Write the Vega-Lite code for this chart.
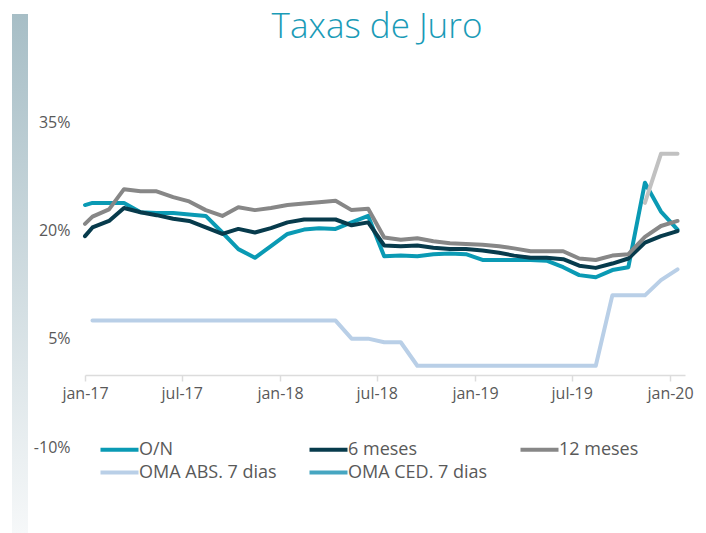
{
  "$schema": "https://vega.github.io/schema/vega-lite/v6.json",
  "background": "white",
  "padding": {"left": 12, "top": 10, "right": 0, "bottom": 0},
  "spacing": 5,
  "config": {"view": {"stroke": null}, "font": "Open Sans"},
  "hconcat": [
    {
      "width": 16,
      "height": 411,
      "data": {"values": [{"k": 0}]},
      "mark": {"type": "rect", "clip": false, "color": {"gradient": "linear", "x1": 0, "y1": 0, "x2": 0, "y2": 1, "stops": [{"offset": 0, "color": "#a7bec6"}, {"offset": 1, "color": "#f6f8f9"}]}},
      "encoding": {
        "x": {"datum": 0, "type": "quantitative", "scale": {"domain": [0, 1]}, "axis": null},
        "x2": {"datum": 1},
        "y": {"datum": 0, "type": "quantitative", "scale": {"domain": [0, 1], "nice": false, "zero": false}, "axis": null},
        "y2": {"datum": 1.263}
      }
    },
    {
      "width": 600,
      "height": 325,
      "title": {"text": "Taxas de Juro", "fontSize": 35, "font": "Open Sans", "fontWeight": 300, "color": "#1a9bb7", "anchor": "middle", "frame": "group", "offset": 69, "dx": -8},
      "data": {"values": [
        {"d": "2017-01-01", "s": "O/N", "v": 23.5},
        {"d": "2017-01-15", "s": "O/N", "v": 23.8},
        {"d": "2017-02-15", "s": "O/N", "v": 23.8},
        {"d": "2017-03-15", "s": "O/N", "v": 23.8},
        {"d": "2017-04-15", "s": "O/N", "v": 22.5},
        {"d": "2017-05-15", "s": "O/N", "v": 22.4},
        {"d": "2017-06-15", "s": "O/N", "v": 22.4},
        {"d": "2017-07-15", "s": "O/N", "v": 22.2},
        {"d": "2017-08-15", "s": "O/N", "v": 22.0},
        {"d": "2017-09-15", "s": "O/N", "v": 19.7},
        {"d": "2017-10-15", "s": "O/N", "v": 17.4},
        {"d": "2017-11-15", "s": "O/N", "v": 16.2},
        {"d": "2017-12-15", "s": "O/N", "v": 17.8},
        {"d": "2018-01-15", "s": "O/N", "v": 19.5},
        {"d": "2018-02-15", "s": "O/N", "v": 20.1},
        {"d": "2018-03-15", "s": "O/N", "v": 20.3},
        {"d": "2018-04-15", "s": "O/N", "v": 20.2},
        {"d": "2018-05-15", "s": "O/N", "v": 21.1},
        {"d": "2018-06-15", "s": "O/N", "v": 22.0},
        {"d": "2018-07-15", "s": "O/N", "v": 16.4},
        {"d": "2018-08-15", "s": "O/N", "v": 16.5},
        {"d": "2018-09-15", "s": "O/N", "v": 16.4},
        {"d": "2018-10-15", "s": "O/N", "v": 16.7},
        {"d": "2018-11-15", "s": "O/N", "v": 16.8},
        {"d": "2018-12-15", "s": "O/N", "v": 16.7},
        {"d": "2019-01-15", "s": "O/N", "v": 15.9},
        {"d": "2019-02-15", "s": "O/N", "v": 15.9},
        {"d": "2019-03-15", "s": "O/N", "v": 15.9},
        {"d": "2019-04-15", "s": "O/N", "v": 15.9},
        {"d": "2019-05-15", "s": "O/N", "v": 15.8},
        {"d": "2019-06-15", "s": "O/N", "v": 14.9},
        {"d": "2019-07-15", "s": "O/N", "v": 13.8},
        {"d": "2019-08-15", "s": "O/N", "v": 13.5},
        {"d": "2019-09-15", "s": "O/N", "v": 14.5},
        {"d": "2019-10-15", "s": "O/N", "v": 14.9},
        {"d": "2019-11-15", "s": "O/N", "v": 26.6},
        {"d": "2019-12-15", "s": "O/N", "v": 22.6},
        {"d": "2020-01-15", "s": "O/N", "v": 20.1},
        {"d": "2017-01-01", "s": "6 meses", "v": 19.2},
        {"d": "2017-01-15", "s": "6 meses", "v": 20.4},
        {"d": "2017-02-15", "s": "6 meses", "v": 21.3},
        {"d": "2017-03-15", "s": "6 meses", "v": 23.1},
        {"d": "2017-04-15", "s": "6 meses", "v": 22.5},
        {"d": "2017-05-15", "s": "6 meses", "v": 22.1},
        {"d": "2017-06-15", "s": "6 meses", "v": 21.6},
        {"d": "2017-07-15", "s": "6 meses", "v": 21.3},
        {"d": "2017-08-15", "s": "6 meses", "v": 20.4},
        {"d": "2017-09-15", "s": "6 meses", "v": 19.5},
        {"d": "2017-10-15", "s": "6 meses", "v": 20.2},
        {"d": "2017-11-15", "s": "6 meses", "v": 19.7},
        {"d": "2017-12-15", "s": "6 meses", "v": 20.3},
        {"d": "2018-01-15", "s": "6 meses", "v": 21.1},
        {"d": "2018-02-15", "s": "6 meses", "v": 21.5},
        {"d": "2018-03-15", "s": "6 meses", "v": 21.5},
        {"d": "2018-04-15", "s": "6 meses", "v": 21.5},
        {"d": "2018-05-15", "s": "6 meses", "v": 20.7},
        {"d": "2018-06-15", "s": "6 meses", "v": 21.1},
        {"d": "2018-07-15", "s": "6 meses", "v": 17.9},
        {"d": "2018-08-15", "s": "6 meses", "v": 17.8},
        {"d": "2018-09-15", "s": "6 meses", "v": 17.9},
        {"d": "2018-10-15", "s": "6 meses", "v": 17.6},
        {"d": "2018-11-15", "s": "6 meses", "v": 17.4},
        {"d": "2018-12-15", "s": "6 meses", "v": 17.4},
        {"d": "2019-01-15", "s": "6 meses", "v": 17.2},
        {"d": "2019-02-15", "s": "6 meses", "v": 16.9},
        {"d": "2019-03-15", "s": "6 meses", "v": 16.5},
        {"d": "2019-04-15", "s": "6 meses", "v": 16.2},
        {"d": "2019-05-15", "s": "6 meses", "v": 16.2},
        {"d": "2019-06-15", "s": "6 meses", "v": 16.0},
        {"d": "2019-07-15", "s": "6 meses", "v": 15.1},
        {"d": "2019-08-15", "s": "6 meses", "v": 14.8},
        {"d": "2019-09-15", "s": "6 meses", "v": 15.4},
        {"d": "2019-10-15", "s": "6 meses", "v": 16.1},
        {"d": "2019-11-15", "s": "6 meses", "v": 18.3},
        {"d": "2019-12-15", "s": "6 meses", "v": 19.2},
        {"d": "2020-01-15", "s": "6 meses", "v": 19.9},
        {"d": "2017-01-01", "s": "12 meses", "v": 20.9},
        {"d": "2017-01-15", "s": "12 meses", "v": 21.9},
        {"d": "2017-02-15", "s": "12 meses", "v": 22.9},
        {"d": "2017-03-15", "s": "12 meses", "v": 25.7},
        {"d": "2017-04-15", "s": "12 meses", "v": 25.4},
        {"d": "2017-05-15", "s": "12 meses", "v": 25.4},
        {"d": "2017-06-15", "s": "12 meses", "v": 24.6},
        {"d": "2017-07-15", "s": "12 meses", "v": 24.0},
        {"d": "2017-08-15", "s": "12 meses", "v": 22.8},
        {"d": "2017-09-15", "s": "12 meses", "v": 22.0},
        {"d": "2017-10-15", "s": "12 meses", "v": 23.2},
        {"d": "2017-11-15", "s": "12 meses", "v": 22.8},
        {"d": "2017-12-15", "s": "12 meses", "v": 23.1},
        {"d": "2018-01-15", "s": "12 meses", "v": 23.5},
        {"d": "2018-02-15", "s": "12 meses", "v": 23.7},
        {"d": "2018-03-15", "s": "12 meses", "v": 23.9},
        {"d": "2018-04-15", "s": "12 meses", "v": 24.1},
        {"d": "2018-05-15", "s": "12 meses", "v": 22.8},
        {"d": "2018-06-15", "s": "12 meses", "v": 23.0},
        {"d": "2018-07-15", "s": "12 meses", "v": 19.0},
        {"d": "2018-08-15", "s": "12 meses", "v": 18.7},
        {"d": "2018-09-15", "s": "12 meses", "v": 18.9},
        {"d": "2018-10-15", "s": "12 meses", "v": 18.5},
        {"d": "2018-11-15", "s": "12 meses", "v": 18.2},
        {"d": "2018-12-15", "s": "12 meses", "v": 18.1},
        {"d": "2019-01-15", "s": "12 meses", "v": 18.0},
        {"d": "2019-02-15", "s": "12 meses", "v": 17.8},
        {"d": "2019-03-15", "s": "12 meses", "v": 17.5},
        {"d": "2019-04-15", "s": "12 meses", "v": 17.1},
        {"d": "2019-05-15", "s": "12 meses", "v": 17.1},
        {"d": "2019-06-15", "s": "12 meses", "v": 17.1},
        {"d": "2019-07-15", "s": "12 meses", "v": 16.1},
        {"d": "2019-08-15", "s": "12 meses", "v": 15.9},
        {"d": "2019-09-15", "s": "12 meses", "v": 16.5},
        {"d": "2019-10-15", "s": "12 meses", "v": 16.7},
        {"d": "2019-11-15", "s": "12 meses", "v": 19.1},
        {"d": "2019-12-15", "s": "12 meses", "v": 20.6},
        {"d": "2020-01-15", "s": "12 meses", "v": 21.3},
        {"d": "2017-01-15", "s": "OMA ABS. 7 dias", "v": 7.5},
        {"d": "2017-02-15", "s": "OMA ABS. 7 dias", "v": 7.5},
        {"d": "2017-03-15", "s": "OMA ABS. 7 dias", "v": 7.5},
        {"d": "2017-04-15", "s": "OMA ABS. 7 dias", "v": 7.5},
        {"d": "2017-05-15", "s": "OMA ABS. 7 dias", "v": 7.5},
        {"d": "2017-06-15", "s": "OMA ABS. 7 dias", "v": 7.5},
        {"d": "2017-07-15", "s": "OMA ABS. 7 dias", "v": 7.5},
        {"d": "2017-08-15", "s": "OMA ABS. 7 dias", "v": 7.5},
        {"d": "2017-09-15", "s": "OMA ABS. 7 dias", "v": 7.5},
        {"d": "2017-10-15", "s": "OMA ABS. 7 dias", "v": 7.5},
        {"d": "2017-11-15", "s": "OMA ABS. 7 dias", "v": 7.5},
        {"d": "2017-12-15", "s": "OMA ABS. 7 dias", "v": 7.5},
        {"d": "2018-01-15", "s": "OMA ABS. 7 dias", "v": 7.5},
        {"d": "2018-02-15", "s": "OMA ABS. 7 dias", "v": 7.5},
        {"d": "2018-03-15", "s": "OMA ABS. 7 dias", "v": 7.5},
        {"d": "2018-04-15", "s": "OMA ABS. 7 dias", "v": 7.5},
        {"d": "2018-05-15", "s": "OMA ABS. 7 dias", "v": 5.0},
        {"d": "2018-06-15", "s": "OMA ABS. 7 dias", "v": 5.0},
        {"d": "2018-07-15", "s": "OMA ABS. 7 dias", "v": 4.5},
        {"d": "2018-08-15", "s": "OMA ABS. 7 dias", "v": 4.5},
        {"d": "2018-09-15", "s": "OMA ABS. 7 dias", "v": 1.25},
        {"d": "2018-10-15", "s": "OMA ABS. 7 dias", "v": 1.25},
        {"d": "2018-11-15", "s": "OMA ABS. 7 dias", "v": 1.25},
        {"d": "2018-12-15", "s": "OMA ABS. 7 dias", "v": 1.25},
        {"d": "2019-01-15", "s": "OMA ABS. 7 dias", "v": 1.25},
        {"d": "2019-02-15", "s": "OMA ABS. 7 dias", "v": 1.25},
        {"d": "2019-03-15", "s": "OMA ABS. 7 dias", "v": 1.25},
        {"d": "2019-04-15", "s": "OMA ABS. 7 dias", "v": 1.25},
        {"d": "2019-05-15", "s": "OMA ABS. 7 dias", "v": 1.25},
        {"d": "2019-06-15", "s": "OMA ABS. 7 dias", "v": 1.25},
        {"d": "2019-07-15", "s": "OMA ABS. 7 dias", "v": 1.25},
        {"d": "2019-08-15", "s": "OMA ABS. 7 dias", "v": 1.25},
        {"d": "2019-09-15", "s": "OMA ABS. 7 dias", "v": 11.0},
        {"d": "2019-10-15", "s": "OMA ABS. 7 dias", "v": 11.0},
        {"d": "2019-11-15", "s": "OMA ABS. 7 dias", "v": 11.0},
        {"d": "2019-12-15", "s": "OMA ABS. 7 dias", "v": 13.1},
        {"d": "2020-01-15", "s": "OMA ABS. 7 dias", "v": 14.6},
        {"d": "2019-11-15", "s": "OMA CED. 7 dias", "v": 23.8},
        {"d": "2019-12-15", "s": "OMA CED. 7 dias", "v": 30.6},
        {"d": "2020-01-15", "s": "OMA CED. 7 dias", "v": 30.6}
      ]},
      "encoding": {
        "x": {
          "field": "d",
          "type": "temporal",
          "scale": {"type": "utc", "domain": [{"year": 2017, "month": 1, "date": 1, "utc": true}, {"year": 2020, "month": 1, "date": 29, "utc": true}]},
          "axis": {
            "values": [
              {"year": 2017, "month": 1, "date": 1, "utc": true},
              {"year": 2017, "month": 7, "date": 1, "utc": true},
              {"year": 2018, "month": 1, "date": 1, "utc": true},
              {"year": 2018, "month": 7, "date": 1, "utc": true},
              {"year": 2019, "month": 1, "date": 1, "utc": true},
              {"year": 2019, "month": 7, "date": 1, "utc": true},
              {"year": 2020, "month": 1, "date": 1, "utc": true}
            ],
            "labelExpr": "(utcmonth(datum.value) == 0 ? 'jan' : 'jul') + '-' + utcFormat(datum.value, '%y')",
            "offset": -72,
            "domainColor": "#dcdcdc",
            "domainWidth": 1.5,
            "tickColor": "#dcdcdc",
            "tickWidth": 1.5,
            "tickSize": 6,
            "labelFontSize": 16,
            "labelColor": "#595959",
            "labelPadding": 4,
            "labelFlush": false,
            "labelOverlap": false,
            "grid": false,
            "title": null
          }
        },
        "y": {
          "field": "v",
          "type": "quantitative",
          "scale": {"domain": [-10, 35], "nice": false, "zero": false},
          "axis": {
            "values": [-10, 5, 20, 35],
            "labelExpr": "datum.value + '%'",
            "domain": false,
            "ticks": false,
            "grid": false,
            "labelFontSize": 16,
            "labelColor": "#595959",
            "labelPadding": 15,
            "title": null
          }
        }
      },
      "layer": [
        {
          "transform": [{"filter": "datum.s !== 'OMA CED. 7 dias'"}],
          "mark": {"type": "line", "strokeWidth": 4, "strokeCap": "round", "strokeJoin": "round"},
          "encoding": {
            "color": {
              "field": "s",
              "type": "nominal",
              "scale": {
                "domain": ["O/N", "6 meses", "12 meses", "OMA ABS. 7 dias", "OMA CED. 7 dias"],
                "range": ["#0a9ab4", "#073b4c", "#878787", "#b9cfe7", "#46a6c1"]
              },
              "legend": {
                "orient": "none",
                "legendX": 86,
                "legendY": 316,
                "columns": 3,
                "direction": "horizontal",
                "title": null,
                "symbolType": "M -2 0 L 2 0",
                "symbolSize": 361,
                "symbolStrokeWidth": 4,
                "symbolOffset": 10,
                "labelFontSize": 18,
                "labelColor": "#595959",
                "labelOffset": 8,
                "columnPadding": 24,
                "rowPadding": 2,
                "labelLimit": 300
              }
            }
          }
        },
        {
          "transform": [{"filter": "datum.s === 'OMA CED. 7 dias'"}],
          "mark": {"type": "line", "strokeWidth": 4, "strokeCap": "round", "strokeJoin": "round", "color": "#c1c1c1"},
          "encoding": {}
        }
      ]
    }
  ]
}
